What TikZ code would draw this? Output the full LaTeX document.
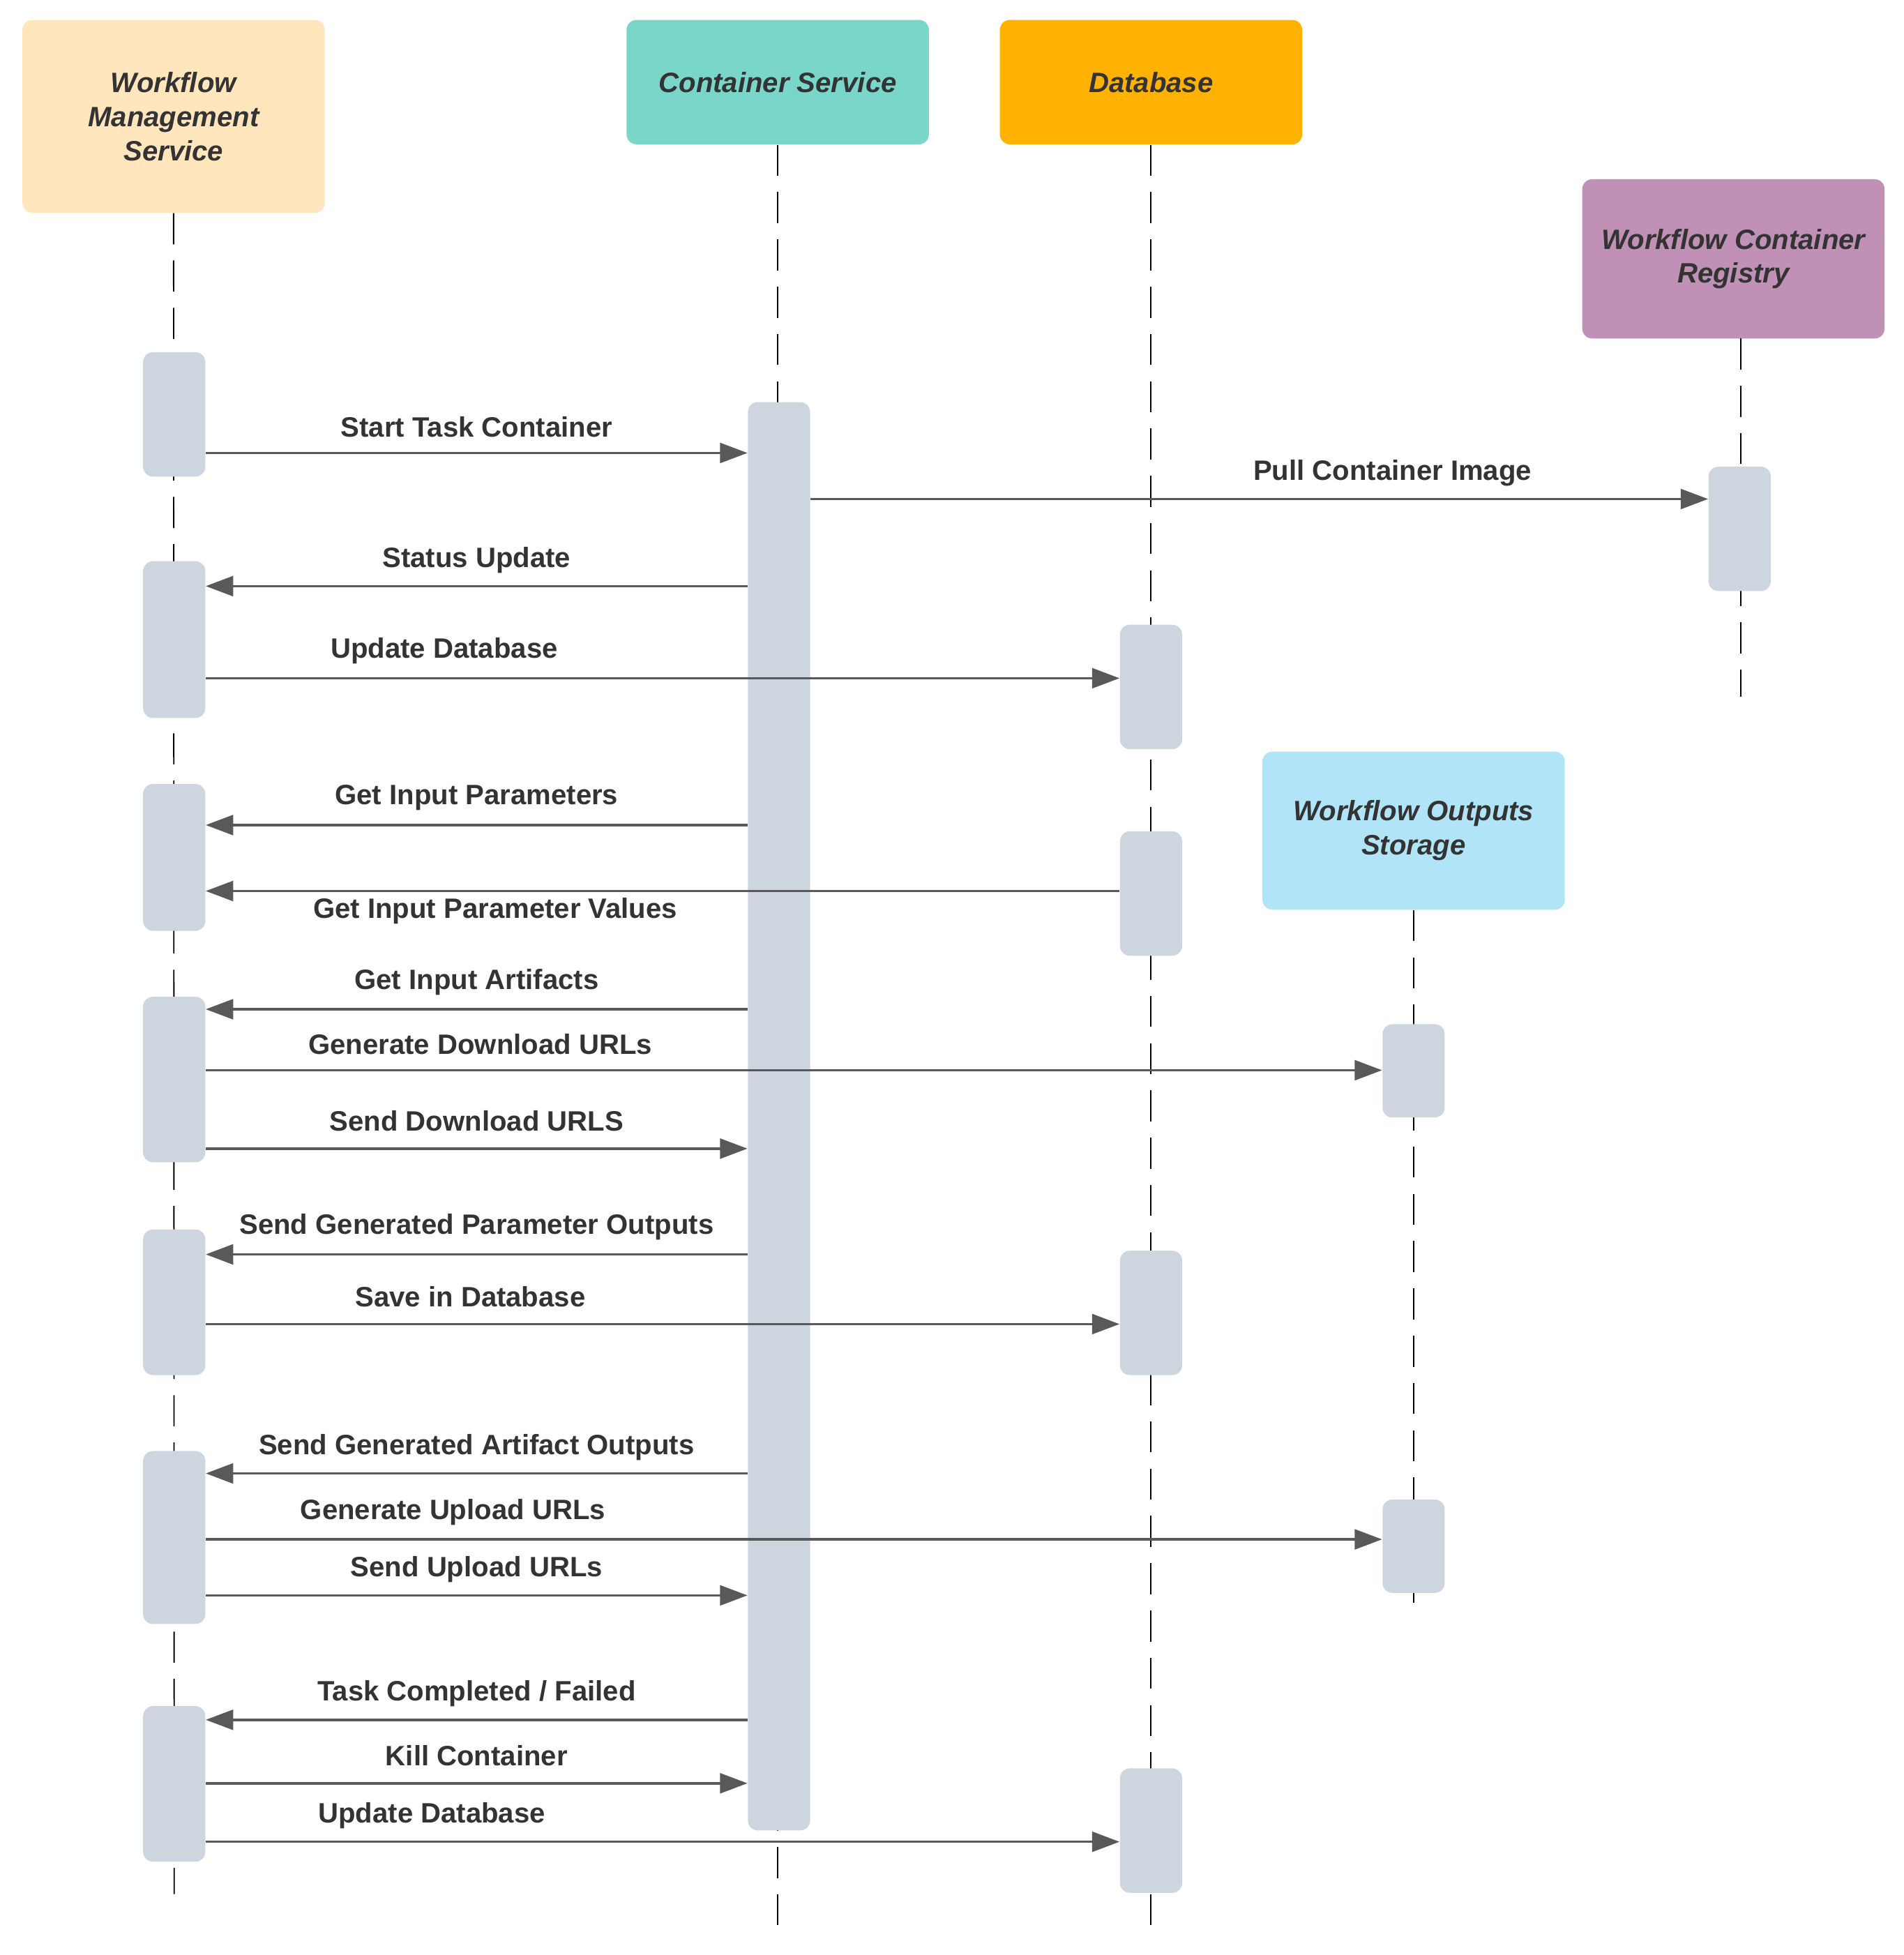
\documentclass[tikz,border=0pt]{standalone}
\usepackage{fontspec}
\setmainfont{Liberation Sans}
\usetikzlibrary{arrows.meta}

\definecolor{txtgray}{HTML}{333333}
\definecolor{arrgray}{HTML}{595959}
\definecolor{actgray}{HTML}{CDD5DE}
\definecolor{wmscol}{HTML}{FFE6BD}
\definecolor{cscol}{HTML}{79D6C9}
\definecolor{dbcol}{HTML}{FFB201}
\definecolor{regcol}{HTML}{C190B6}
\definecolor{storecol}{HTML}{B0E4F6}

\tikzset{
  actor/.style={rounded corners=0.16cm, minimum width=4.86cm, align=center,
    text=txtgray, font=\fontsize{12.8}{15.6}\selectfont\bfseries\itshape},
  act/.style={fill=actgray, rounded corners=0.16cm, minimum width=1cm, inner sep=0pt},
  life/.style={black, line width=0.6pt, dash pattern=on 0.5cm off 0.26cm},
  msg/.style={arrgray, line width=1.15pt, -{Triangle[length=0.44cm,width=0.32cm]}},
  lbl/.style={text=txtgray, font=\fontsize{12.8}{15.6}\selectfont\bfseries, inner sep=0pt}
}

\begin{document}
\begin{tikzpicture}[x=0.02cm, y=-0.02cm]
	\useasboundingbox (0,0) rectangle (1530,1571);

	% participants
	\node[actor, fill=wmscol, minimum height=3.1cm]		(wms) at (139.5,93.5) {Workflow\\Management\\Service};
	\node[actor, fill=cscol, minimum height=2cm]		(cs) at (625,66) {Container Service};
	\node[actor, fill=dbcol, minimum height=2cm]		(db) at (925,66) {Database};
	\node[actor, fill=regcol, minimum height=2.56cm]	(reg) at (1393,208) {Workflow Container\\Registry};
	\node[actor, fill=storecol, minimum height=2.54cm]	(store) at (1136,667.5) {Workflow Outputs\\Storage};

	% lifelines
	\draw[life]	(wms.south) -- (140,1522);
	\draw[life]	(cs.south) -- (625,1548);
	\draw[life]	(db.south) -- (925,1548);
	\draw[life]	(1399,272) -- (1399,560);
	\draw[life]	(store.south) -- (1136,1292);

	% activations
	\node[act, minimum height=2cm]		(w1) at (140,333) {};
	\node[act, minimum height=2.52cm]	(w2) at (140,514) {};
	\node[act, minimum height=2.36cm]	(w3) at (140,689) {};
	\node[act, minimum height=2.66cm]	(w4) at (140,867.5) {};
	\node[act, minimum height=2.34cm]	(w5) at (140,1046.5) {};
	\node[act, minimum height=2.78cm]	(w6) at (140,1235.5) {};
	\node[act, minimum height=2.5cm]	(w7) at (140,1433.5) {};
	\node[act, minimum height=22.96cm]	(c1) at (626,897) {};
	\node[act, minimum height=2cm]		(d1) at (925,552) {};
	\node[act, minimum height=2cm]		(d2) at (925,718) {};
	\node[act, minimum height=2cm]		(d3) at (925,1055) {};
	\node[act, minimum height=2cm]		(d4) at (925,1471) {};
	\node[act, minimum height=2cm]		(r1) at (1398,425) {};
	\node[act, minimum height=1.5cm]	(s1) at (1136,860.5) {};
	\node[act, minimum height=1.5cm]	(s2) at (1136,1242.5) {};

	% messages
	\draw[msg]	(w1.east |- 0,364) -- (c1.west |- 0,364);
	\node[lbl]	(l1) at (383,343) {Start Task Container};
	\draw[msg]	(c1.east |- 0,401) -- (r1.west |- 0,401);
	\node[lbl]	(l2) at (1119,380) {Pull Container Image};
	\draw[msg]	(c1.west |- 0,471) -- (w2.east |- 0,471);
	\node[lbl]	(l3) at (383,450) {Status Update};
	\draw[msg]	(w2.east |- 0,545) -- (d1.west |- 0,545);
	\node[lbl]	(l4) at (357,523) {Update Database};
	\draw[msg]	(c1.west |- 0,663) -- (w3.east |- 0,663);
	\node[lbl]	(l5) at (383,641) {Get Input Parameters};
	\draw[msg]	(d2.west |- 0,716) -- (w3.east |- 0,716);
	\node[lbl]	(l6) at (398,732) {Get Input Parameter Values};
	\draw[msg]	(c1.west |- 0,811) -- (w4.east |- 0,811);
	\node[lbl]	(l7) at (383,789) {Get Input Artifacts};
	\draw[msg]	(w4.east |- 0,860) -- (s1.west |- 0,860);
	\node[lbl]	(l8) at (386,839) {Generate Download URLs};
	\draw[msg]	(w4.east |- 0,923) -- (c1.west |- 0,923);
	\node[lbl]	(l9) at (383,901) {Send Download URLS};
	\draw[msg]	(c1.west |- 0,1008) -- (w5.east |- 0,1008);
	\node[lbl]	(l10) at (383,986) {Send Generated Parameter Outputs};
	\draw[msg]	(w5.east |- 0,1064) -- (d3.west |- 0,1064);
	\node[lbl]	(l11) at (378,1042) {Save in Database};
	\draw[msg]	(c1.west |- 0,1184) -- (w6.east |- 0,1184);
	\node[lbl]	(l12) at (383,1163) {Send Generated Artifact Outputs};
	\draw[msg]	(w6.east |- 0,1237) -- (s2.west |- 0,1237);
	\node[lbl]	(l13) at (364,1215) {Generate Upload URLs};
	\draw[msg]	(w6.east |- 0,1282) -- (c1.west |- 0,1282);
	\node[lbl]	(l14) at (383,1261) {Send Upload URLs};
	\draw[msg]	(c1.west |- 0,1382) -- (w7.east |- 0,1382);
	\node[lbl]	(l15) at (383,1361) {Task Completed / Failed};
	\draw[msg]	(w7.east |- 0,1433) -- (c1.west |- 0,1433);
	\node[lbl]	(l16) at (383,1411) {Kill Container};
	\draw[msg]	(w7.east |- 0,1480) -- (d4.west |- 0,1480);
	\node[lbl]	(l17) at (347,1459) {Update Database};
\end{tikzpicture}
\end{document}
